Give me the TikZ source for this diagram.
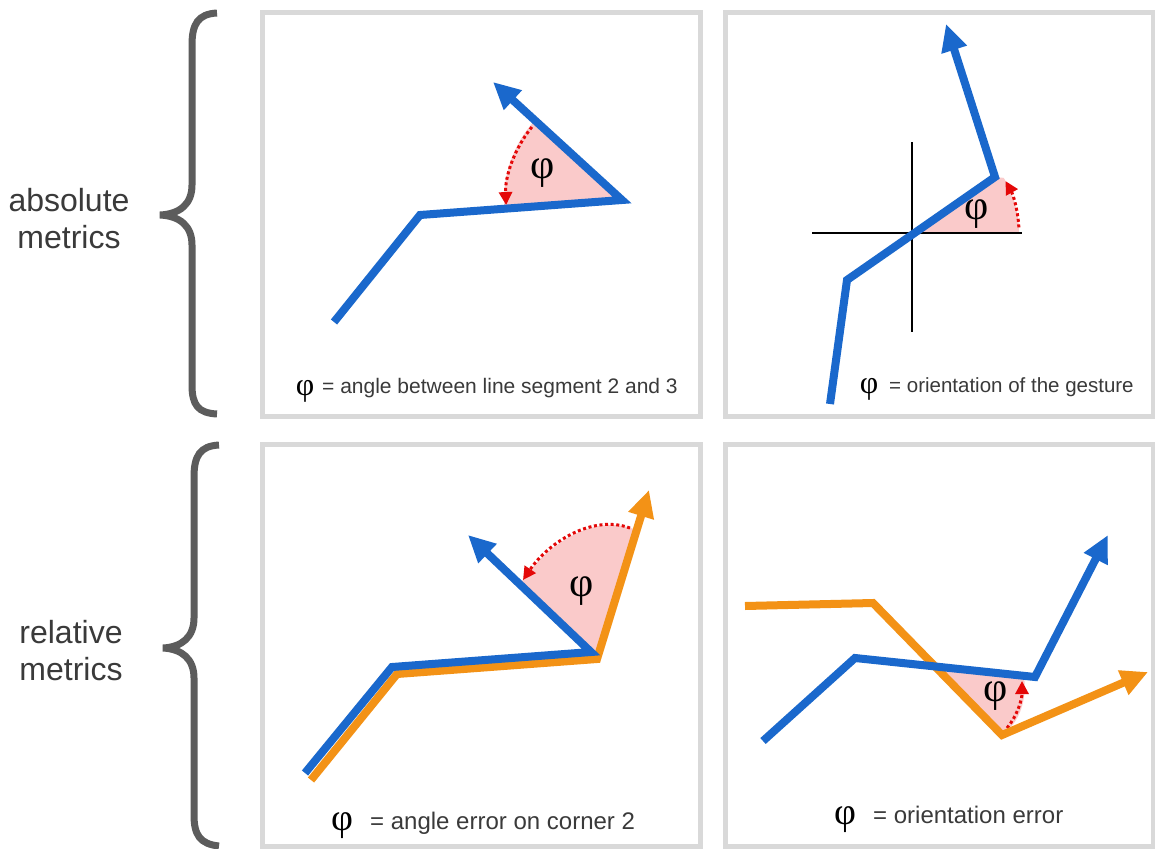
\documentclass[tikz,border=0pt]{standalone}
\usepackage{fontspec}
\setmainfont{Liberation Sans}
\newfontfamily\phifont{Liberation Serif}
\usetikzlibrary{arrows.meta}
\definecolor{gblue}{RGB}{26,104,204}
\definecolor{gorange}{RGB}{243,146,22}
\definecolor{pinkfill}{RGB}{250,202,202}
\definecolor{angred}{RGB}{228,8,8}
\definecolor{framegray}{RGB}{217,217,217}
\definecolor{bracegray}{RGB}{92,92,92}
\definecolor{textgray}{RGB}{58,58,58}
\tikzset{
  frame/.style={draw=framegray, line width=5pt},
  blueline/.style={draw=gblue, line width=8pt},
  orangeline/.style={draw=gorange, line width=8pt},
  bigtip/.style={-{Triangle[length=27pt,width=25pt]}},
  anglearc/.style={draw=angred, line width=3pt, dash pattern=on 3pt off 2.6pt, -{Triangle[length=13pt,width=13pt]}},
  wedge/.style={fill=pinkfill},
  axisline/.style={draw=black, line width=2.5pt},
  brace/.style={draw=bracegray, line width=7pt},
  phi/.style={inner sep=0pt, font=\phifont\fontsize{42}{46}\selectfont, text=black},
  capphi/.style={inner sep=0pt, anchor=base, text=black},
  sidelabel/.style={align=center, inner sep=0pt, text=textgray, font=\fontsize{32}{37}\selectfont},
  caption/.style={anchor=base west, inner sep=0pt, text=textgray},
}
\begin{document}
\begin{tikzpicture}[x=1pt,y=-1pt]
\useasboundingbox (0,0) rectangle (1155,848);
\fill[white] (0,0) rectangle (1155,848);

% frames
\draw[frame] (262,13) rectangle (700,416);
\draw[frame] (725,13) rectangle (1153,416);
\draw[frame] (262,444) rectangle (700,846);
\draw[frame] (725,444) rectangle (1153,846);

% braces
\draw[brace] (217,13) .. controls (198,14) and (192,24) .. (192,45) -- (192,185)
  .. controls (192,204) and (180,214) .. (160,215)
  .. controls (180,216) and (192,226) .. (192,245) -- (192,385)
  .. controls (192,405) and (198,413) .. (217,414);
\draw[brace] (219,445) .. controls (200,446) and (194,456) .. (194,477) -- (194,618)
  .. controls (194,637) and (182,647) .. (163,648)
  .. controls (182,649) and (194,659) .. (194,678) -- (194,815)
  .. controls (194,835) and (200,844) .. (219,846);

% side labels
\node[sidelabel] (abs) at (69,219) {absolute\\metrics};
\node[sidelabel] (rel) at (71,651) {relative\\metrics};

% ---------- panel 1 ----------
\coordinate (a1) at (334,322);
\coordinate (a2) at (420,215);
\coordinate (a3) at (622,200);
\coordinate (a4) at (493,82);
\fill[wedge] (a3) -- ++(175.8:118) arc[start angle=175.8, end angle=222.4, radius=118] -- cycle;
\draw[anglearc] (a3) ++(219:116) arc[start angle=219, end angle=177.5, radius=116];
\draw[blueline, bigtip] (a1) -- (a2) -- (a3) -- (a4);
\node[phi] (phi1) at (543,173) {φ};
\node[capphi, font=\phifont\fontsize{32}{34}\selectfont] (cphi1) at (305,395) {φ};
\node[caption, font=\fontsize{21}{24}\selectfont] (cap1) at (322,393) {= angle between line segment 2 and 3};

% ---------- panel 2 ----------
\coordinate (o2) at (912,233);
\coordinate (vt) at (912,142);
\coordinate (vb) at (912,332);
\coordinate (hl) at (812,233);
\coordinate (hr) at (1022,233);
\coordinate (b1) at (830,404);
\coordinate (b2) at (847,280);
\coordinate (b3) at (995,177);
\coordinate (b4) at (946,24);
\fill[wedge] (o2) -- ++(0:107) arc[start angle=0, end angle=-31, radius=107] -- (b3) -- cycle;
\draw[axisline] (vt) -- (vb);
\draw[axisline] (hl) -- (hr);
\draw[anglearc] (o2) ++(-3:107) arc[start angle=-3, end angle=-29, radius=107];
\draw[blueline, bigtip] (b1) -- (b2) -- (b3) -- (b4);
\node[phi] (phi2) at (977,214) {φ};
\node[capphi, font=\phifont\fontsize{32}{34}\selectfont] (cphi2) at (869,393) {φ};
\node[caption, font=\fontsize{20.5}{23}\selectfont] (cap2) at (889,392) {= orientation of the gesture};

% ---------- panel 3 ----------
\coordinate (c0) at (594,656);
\coordinate (r1) at (311,780);
\coordinate (r2) at (397,674);
\coordinate (r3) at (597,659);
\coordinate (r4) at (649,490);
\coordinate (s1) at (305,773);
\coordinate (s2) at (392,667);
\coordinate (s3) at (591,652);
\coordinate (s4) at (468,535);
\coordinate (p3a) at (636,530);
\coordinate (p3b) at (520,584);
\coordinate (d3a) at (630,528);
\coordinate (d3b) at (523,580);
\fill[wedge] (c0) -- (p3a) .. controls (595,512) and (545,545) .. (p3b) -- cycle;
\draw[anglearc] (d3a) .. controls (592,514) and (548,543) .. (d3b);
\draw[orangeline, bigtip] (r1) -- (r2) -- (r3) -- (r4);
\draw[blueline, bigtip] (s1) -- (s2) -- (s3) -- (s4);
\node[phi] (phi3) at (582,591) {φ};
\node[capphi, font=\phifont\fontsize{38}{40}\selectfont] (cphi3) at (342,830) {φ};
\node[caption, font=\fontsize{24}{28}\selectfont] (cap3) at (370,829) {= angle error on corner 2};

% ---------- panel 4 ----------
\coordinate (u1) at (745,606);
\coordinate (u2) at (873,603);
\coordinate (u3) at (1002,735);
\coordinate (u4) at (1148,672);
\coordinate (w1) at (763,741);
\coordinate (w2) at (855,658);
\coordinate (w3) at (1035,677);
\coordinate (w4) at (1108,535);
\coordinate (x4) at (935,666);
\coordinate (e1) at (1024,676);
\coordinate (d1) at (1007,728);
\coordinate (d2) at (1022,681);
\fill[wedge] (u3) -- (x4) -- (e1) .. controls (1027,700) and (1020,722) .. (u3) -- cycle;
\draw[anglearc] (d1) .. controls (1017,716) and (1022,700) .. (d2);
\draw[orangeline, bigtip] (u1) -- (u2) -- (u3) -- (u4);
\draw[blueline, bigtip] (w1) -- (w2) -- (w3) -- (w4);
\node[phi] (phi4) at (996,696) {φ};
\node[capphi, font=\phifont\fontsize{38}{40}\selectfont] (cphi4) at (845,824) {φ};
\node[caption, font=\fontsize{24}{28}\selectfont] (cap4) at (873,823) {= orientation error};
\end{tikzpicture}
\end{document}
